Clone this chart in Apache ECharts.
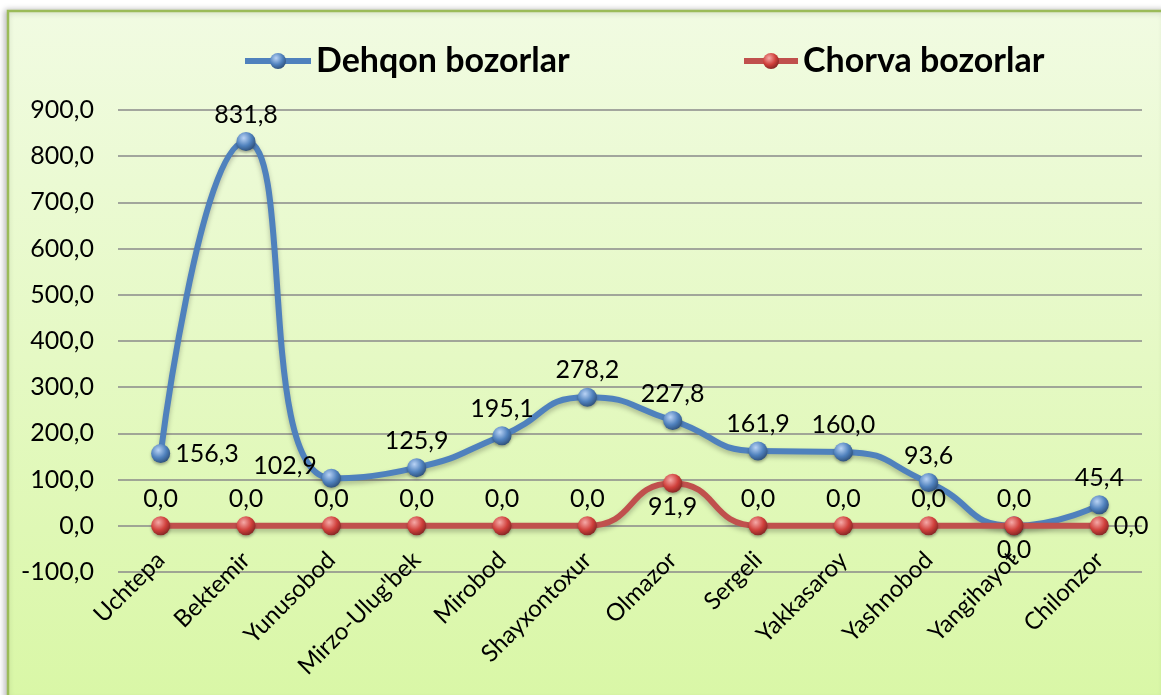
<!DOCTYPE html>
<html>
<head>
<meta charset="utf-8">
<script src="https://cdn.jsdelivr.net/npm/echarts@6/dist/echarts.min.js"></script>
<style>
html,body{margin:0;padding:0;background:#fff;}
#c{width:1161px;height:695px;}
</style>
</head>
<body>
<div id="c"></div>
<script>
const categories = ['Uchtepa','Bektemir','Yunusobod',"Mirzo-Ulug'bek",'Mirobod','Shayxontoxur','Olmazor','Sergeli','Yakkasaroy','Yashnobod','Yangihayot','Chilonzor'];
const dehqon = [156.3, 831.8, 102.9, 125.9, 195.1, 278.2, 227.8, 161.9, 160.0, 93.6, 0.0, 45.4];
const chorva = [0.0, 0.0, 0.0, 0.0, 0.0, 0.0, 91.9, 0.0, 0.0, 0.0, 0.0, 0.0];
const seriesNames = ['Dehqon bozorlar', 'Chorva bozorlar'];

const dehqonLabelPos = ['right','top','left','top','top','top','top','top','top','top','top','top'];
const chorvaLabelPos = ['top','top','top','top','top','top','bottom','top','top','top','bottom','right'];

const FONT = 'Lato';
const fmt = v => Number(v).toFixed(1).replace('.', ',');

function sphere(light, mid, dark){
  return {type:'radial', x:0.38, y:0.32, r:0.75, colorStops:[
    {offset:0, color:light},{offset:0.55, color:mid},{offset:1, color:dark}]};
}
const blueSphere = sphere('#b9d3f5', '#4f81bd', '#2a4a72');
const redSphere = sphere('#f5a9a7', '#d0403c', '#7a2220');

function buildData(vals, pos){
  return vals.map((v,i)=>{
    const item = {value:v, label:{position:pos[i]}};
    if(pos[i]==='left') item.label.offset=[0,-12];
    if(pos[i]==='bottom') item.label.distance=2;
    return item;
  });
}

const chart = echarts.init(document.getElementById('c'), null, {renderer:'canvas'});
const labelCommon = {show:true, formatter:p=>fmt(p.value), fontFamily:FONT, fontSize:25, color:'#000', distance:5};

chart.setOption({
  animation:false,
  graphic:[{
    type:'rect', z:-10, silent:true,
    shape:{x:8, y:11, width:1160, height:690},
    style:{
      fill:{type:'linear', x:0, y:0, x2:0, y2:1, colorStops:[{offset:0,color:'#f1fbe2'},{offset:1,color:'#d9f7a6'}]},
      stroke:'#9bbb59', lineWidth:2.5,
      shadowColor:'rgba(0,0,0,0.25)', shadowBlur:6, shadowOffsetX:-2
    }
  }],
  legend:[
    {data:[seriesNames[0]], left:237, top:39, itemWidth:66, itemHeight:20, itemGap:0,
     lineStyle:{width:6},
     textStyle:{fontFamily:FONT, fontWeight:'bold', fontSize:34, color:'#000'}},
    {data:[seriesNames[1]], left:736, top:39, itemWidth:54, itemHeight:20, itemGap:0,
     lineStyle:{width:6},
     textStyle:{fontFamily:FONT, fontWeight:'bold', fontSize:34, color:'#000'}}
  ],
  grid:{left:118, right:19, top:110, bottom:123, containLabel:false},
  xAxis:{
    type:'category', data:categories, boundaryGap:true,
    axisLine:{show:false, onZero:false}, axisTick:{show:false},
    axisLabel:{rotate:45, fontFamily:FONT, fontSize:24, color:'#000', margin:-16, interval:0}
  },
  yAxis:{
    type:'value', min:-100, max:900, interval:100,
    axisLine:{show:false}, axisTick:{show:false},
    splitLine:{lineStyle:{color:'#8a8a8a', width:1.5}},
    axisLabel:{formatter:v=>fmt(v), fontFamily:FONT, fontSize:25, color:'#000', margin:24}
  },
  series:[
    {
      name:seriesNames[0], type:'line', smooth:0.55, data:buildData(dehqon, dehqonLabelPos),
      symbol:'circle', symbolSize:19, z:3,
      lineStyle:{color:'#4f81bd', width:6, shadowColor:'rgba(0,0,0,0.25)', shadowBlur:5, shadowOffsetY:3},
      itemStyle:{color:blueSphere, borderWidth:0, shadowColor:'rgba(0,0,0,0.3)', shadowBlur:3, shadowOffsetY:2},
      label:labelCommon
    },
    {
      name:seriesNames[1], type:'line', smooth:0.55, data:buildData(chorva, chorvaLabelPos),
      symbol:'circle', symbolSize:19, z:4,
      lineStyle:{color:'#c0504d', width:6, shadowColor:'rgba(0,0,0,0.25)', shadowBlur:5, shadowOffsetY:3},
      itemStyle:{color:redSphere, borderWidth:0, shadowColor:'rgba(0,0,0,0.3)', shadowBlur:3, shadowOffsetY:2},
      label:labelCommon
    }
  ]
});
</script>
</body>
</html>
